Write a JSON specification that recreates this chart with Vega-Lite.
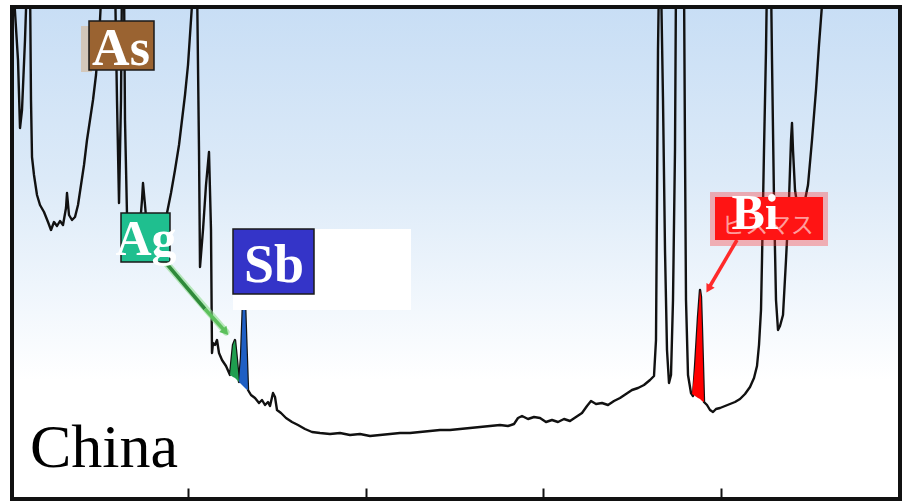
{
  "$schema": "https://vega.github.io/schema/vega-lite/v6.json",
  "width": 888,
  "height": 492,
  "padding": {"left": 12, "top": 7, "right": 6, "bottom": 3},
  "autosize": {"type": "none"},
  "background": "white",
  "config": {"view": {"stroke": null}},
  "encoding": {
    "x": {"field": "x", "type": "quantitative", "scale": {"domain": [12, 900], "nice": false, "zero": false},
      "axis": {"values": [188, 366, 543, 721], "labels": false, "title": null, "grid": false, "domain": false, "ticks": true, "tickSize": -11, "tickWidth": 2, "tickColor": "#111", "zindex": 2}},
    "y": {"field": "y", "type": "quantitative", "scale": {"domain": [-2, 490], "nice": false, "zero": false}, "axis": null}
  },
  "layer": [
    {
      "data": {"values": [{"x": 12, "x2": 900, "y": -2, "y2": 490}]},
      "mark": {"type": "rect", "fill": {"gradient": "linear", "x1": 0, "y1": 0, "x2": 0, "y2": 1,
        "stops": [{"offset": 0, "color": "#c8def5"}, {"offset": 0.35, "color": "#dceaf8"}, {"offset": 0.62, "color": "#f3f8fd"}, {"offset": 0.76, "color": "#ffffff"}, {"offset": 1, "color": "#ffffff"}]}},
      "encoding": {"x2": {"field": "x2"}, "y2": {"field": "y2"}}
    },
    {
      "data": {"values": [
        {"x":13,"y":517},{"x":18,"y":437},{"x":20,"y":369},{"x":22,"y":387},{"x":25,"y":457},{"x":27,"y":517},{"x":30,"y":517},{"x":31,"y":397},{"x":32,"y":340},{"x":34,"y":322},{"x":37,"y":302},{"x":40,"y":292},{"x":44,"y":285},{"x":48,"y":275},{"x":51,"y":267},{"x":54,"y":275},{"x":57,"y":271},{"x":60,"y":276},{"x":63,"y":272},{"x":66,"y":289},{"x":67,"y":304},{"x":69,"y":282},{"x":72,"y":277},{"x":75,"y":280},{"x":78,"y":292},{"x":81,"y":312},{"x":84,"y":332},{"x":87,"y":357},{"x":90,"y":377},{"x":93,"y":397},{"x":96,"y":422},{"x":98,"y":447},{"x":100,"y":477},{"x":102,"y":517},
        {"x":115,"y":517},{"x":117,"y":397},{"x":119,"y":294},{"x":121,"y":397},{"x":122,"y":517},{"x":124,"y":517},{"x":125,"y":377},{"x":127,"y":282},{"x":130,"y":265},{"x":135,"y":269},{"x":140,"y":272},{"x":142,"y":297},{"x":143,"y":314},{"x":145,"y":292},{"x":147,"y":269},{"x":152,"y":262},{"x":158,"y":265},{"x":163,"y":273},{"x":167,"y":284},{"x":171,"y":304},{"x":175,"y":327},{"x":179,"y":352},{"x":182,"y":377},{"x":185,"y":402},{"x":188,"y":432},{"x":190,"y":462},{"x":192,"y":492},{"x":193,"y":517},
        {"x":197,"y":517},{"x":199,"y":347},{"x":200,"y":230},{"x":203,"y":267},{"x":206,"y":312},{"x":209,"y":345},{"x":211,"y":267},{"x":212,"y":144},{"x":213,"y":154},{"x":215,"y":152},{"x":217,"y":157},{"x":219,"y":144},{"x":222,"y":137},{"x":226,"y":131},{"x":230,"y":122},{"x":233,"y":152},{"x":235,"y":157},{"x":237,"y":137},{"x":239,"y":115},{"x":241,"y":140},{"x":243,"y":195},{"x":244,"y":205},{"x":245,"y":195},{"x":246,"y":165},{"x":248,"y":107},
        {"x":251,"y":102},{"x":255,"y":99},{"x":259,"y":94},{"x":262,"y":97},{"x":265,"y":92},{"x":268,"y":95},{"x":270,"y":91},{"x":273,"y":104},{"x":275,"y":100},{"x":277,"y":87},{"x":281,"y":84},{"x":286,"y":79},{"x":292,"y":75},{"x":298,"y":72},{"x":305,"y":68},{"x":312,"y":65},{"x":320,"y":64},{"x":330,"y":63},{"x":340,"y":64},{"x":350,"y":62},{"x":360,"y":63},{"x":370,"y":61},{"x":380,"y":62},{"x":390,"y":63},{"x":400,"y":64},{"x":410,"y":64},{"x":420,"y":65},{"x":430,"y":66},{"x":440,"y":67},{"x":450,"y":67},{"x":460,"y":68},{"x":470,"y":69},{"x":480,"y":70},{"x":490,"y":71},{"x":500,"y":72},{"x":508,"y":71},{"x":514,"y":73},{"x":518,"y":79},{"x":522,"y":81},{"x":528,"y":78},{"x":534,"y":80},{"x":540,"y":79},{"x":546,"y":75},{"x":552,"y":77},{"x":558,"y":75},{"x":564,"y":78},{"x":570,"y":76},{"x":576,"y":80},{"x":582,"y":84},{"x":587,"y":91},{"x":591,"y":96},{"x":596,"y":93},{"x":602,"y":94},{"x":608,"y":92},{"x":614,"y":96},{"x":620,"y":99},{"x":626,"y":103},{"x":632,"y":107},{"x":638,"y":109},{"x":644,"y":112},{"x":650,"y":117},{"x":654,"y":121},
        {"x":656,"y":157},{"x":657,"y":297},{"x":658,"y":447},{"x":659,"y":517},{"x":661,"y":517},{"x":663,"y":397},{"x":665,"y":247},{"x":667,"y":147},{"x":669,"y":114},{"x":671,"y":122},{"x":673,"y":197},{"x":675,"y":347},{"x":676,"y":517},{"x":684,"y":517},{"x":685,"y":347},{"x":686,"y":197},{"x":688,"y":122},{"x":691,"y":104},{"x":693,"y":101},{"x":695,"y":130},{"x":698,"y":180},{"x":700,"y":207},{"x":701,"y":200},{"x":702,"y":167},{"x":704,"y":95},
        {"x":707,"y":92},{"x":710,"y":87},{"x":713,"y":85},{"x":716,"y":88},{"x":720,"y":89},{"x":725,"y":91},{"x":730,"y":93},{"x":735,"y":95},{"x":740,"y":98},{"x":745,"y":103},{"x":750,"y":110},{"x":754,"y":119},{"x":757,"y":131},{"x":759,"y":152},{"x":761,"y":187},{"x":762,"y":237},{"x":764,"y":347},{"x":766,"y":447},{"x":767,"y":517},{"x":771,"y":517},{"x":772,"y":437},{"x":774,"y":297},{"x":776,"y":197},{"x":778,"y":167},{"x":780,"y":171},{"x":783,"y":182},{"x":786,"y":237},{"x":789,"y":297},{"x":791,"y":357},{"x":792,"y":374},{"x":793,"y":347},{"x":795,"y":307},{"x":798,"y":287},{"x":801,"y":282},{"x":804,"y":292},{"x":808,"y":312},{"x":812,"y":357},{"x":816,"y":407},{"x":819,"y":452},{"x":822,"y":492},{"x":824,"y":517}
      ]},
      "mark": {"type": "line", "color": "#111111", "strokeWidth": 2.4, "clip": true, "strokeJoin": "round"}
    },
    {
      "data": {"values": [{"x":230,"y":122,"y2":122},{"x":233,"y":152,"y2":120},{"x":235,"y":157,"y2":119},{"x":237,"y":137,"y2":117},{"x":239,"y":115,"y2":115}]},
      "mark": {"type": "area", "color": "#1f9e4f"},
      "encoding": {"y2": {"field": "y2"}}
    },
    {
      "data": {"values": [{"x":239,"y":115,"y2":115},{"x":241,"y":140,"y2":113},{"x":243,"y":195,"y2":111},{"x":244,"y":205,"y2":110},{"x":245,"y":195,"y2":109},{"x":246,"y":165,"y2":108},{"x":248,"y":107,"y2":107}]},
      "mark": {"type": "area", "color": "#1f5fc4"},
      "encoding": {"y2": {"field": "y2"}}
    },
    {
      "data": {"values": [{"x":692,"y":103,"y2":103},{"x":695,"y":130,"y2":101},{"x":698,"y":180,"y2":99},{"x":700,"y":207,"y2":98},{"x":701,"y":200,"y2":97},{"x":702,"y":167,"y2":96},{"x":704,"y":95,"y2":95}]},
      "mark": {"type": "area", "color": "#ff0000"},
      "encoding": {"y2": {"field": "y2"}}
    },
    {
      "data": {"values": [{"x": 166, "y": 234, "x2": 226, "y2": 165}]},
      "mark": {"type": "rule", "color": "#8fdc8f", "strokeWidth": 7, "opacity": 0.6, "strokeCap": "round"},
      "encoding": {"x2": {"field": "x2"}, "y2": {"field": "y2"}}
    },
    {
      "data": {"values": [{"x": 166, "y": 234, "x2": 205, "y2": 188}]},
      "mark": {"type": "rule", "color": "#2f8a3a", "strokeWidth": 3.5},
      "encoding": {"x2": {"field": "x2"}, "y2": {"field": "y2"}}
    },
    {
      "data": {"values": [{"x": 205, "y": 188, "x2": 224, "y2": 167}]},
      "mark": {"type": "rule", "color": "#5cc05c", "strokeWidth": 3.5},
      "encoding": {"x2": {"field": "x2"}, "y2": {"field": "y2"}}
    },
    {
      "data": {"values": [{"x": 225.5, "y": 165}]},
      "mark": {"type": "point", "shape": "triangle-up", "filled": true, "size": 90, "angle": 139, "color": "#5cc05c", "opacity": 1}
    },
    {
      "data": {"values": [{"x": 737, "y": 257, "x2": 710, "y2": 211}]},
      "mark": {"type": "rule", "color": "#ff2a2a", "strokeWidth": 3.5},
      "encoding": {"x2": {"field": "x2"}, "y2": {"field": "y2"}}
    },
    {
      "data": {"values": [{"x": 708.5, "y": 208}]},
      "mark": {"type": "point", "shape": "triangle-up", "filled": true, "size": 90, "angle": 210, "color": "#ff2a2a", "opacity": 1}
    },
    {
      "data": {"values": [{"x": 81, "x2": 92, "y": 471, "y2": 425}]},
      "mark": {"type": "rect", "fill": "#d7ad80", "opacity": 0.5},
      "encoding": {"x2": {"field": "x2"}, "y2": {"field": "y2"}}
    },
    {
      "data": {"values": [{"x": 89, "x2": 154, "y": 476, "y2": 427}]},
      "mark": {"type": "rect", "fill": "#9a6331", "stroke": "#1a1a1a", "strokeWidth": 1.5},
      "encoding": {"x2": {"field": "x2"}, "y2": {"field": "y2"}}
    },
    {
      "data": {"values": [{"x": 121, "y": 432, "label": "As"}]},
      "mark": {"type": "text", "font": "Liberation Serif", "fontWeight": "bold", "fontSize": 52, "fill": "white", "align": "center", "baseline": "alphabetic"},
      "encoding": {"text": {"field": "label"}}
    },
    {
      "data": {"values": [{"x": 121, "x2": 170, "y": 284, "y2": 235}]},
      "mark": {"type": "rect", "fill": "#1fbf8f", "stroke": "#1a1a1a", "strokeWidth": 1.5},
      "encoding": {"x2": {"field": "x2"}, "y2": {"field": "y2"}}
    },
    {
      "data": {"values": [{"x": 146, "y": 242, "label": "Ag"}]},
      "mark": {"type": "text", "font": "Liberation Serif", "fontWeight": "bold", "fontSize": 50, "fill": "white", "align": "center", "baseline": "alphabetic"},
      "encoding": {"text": {"field": "label"}}
    },
    {
      "data": {"values": [{"x": 233, "x2": 411, "y": 268, "y2": 187}]},
      "mark": {"type": "rect", "fill": "white"},
      "encoding": {"x2": {"field": "x2"}, "y2": {"field": "y2"}}
    },
    {
      "data": {"values": [{"x": 233, "x2": 314, "y": 268, "y2": 203}]},
      "mark": {"type": "rect", "fill": "#3434c8", "stroke": "#1a1a1a", "strokeWidth": 1.5},
      "encoding": {"x2": {"field": "x2"}, "y2": {"field": "y2"}}
    },
    {
      "data": {"values": [{"x": 274, "y": 215, "label": "Sb"}]},
      "mark": {"type": "text", "font": "Liberation Serif", "fontWeight": "bold", "fontSize": 54, "fill": "white", "align": "center", "baseline": "alphabetic"},
      "encoding": {"text": {"field": "label"}}
    },
    {
      "data": {"values": [{"x": 710, "x2": 828, "y": 305, "y2": 251}]},
      "mark": {"type": "rect", "fill": "#ff3030", "opacity": 0.35},
      "encoding": {"x2": {"field": "x2"}, "y2": {"field": "y2"}}
    },
    {
      "data": {"values": [{"x": 715, "x2": 823, "y": 300, "y2": 257}]},
      "mark": {"type": "rect", "fill": "#ff1414"},
      "encoding": {"x2": {"field": "x2"}, "y2": {"field": "y2"}}
    },
    {
      "data": {"values": [{"x": 768, "y": 264, "label": "ビスマス"}]},
      "mark": {"type": "text", "font": "Noto Sans CJK JP", "fontSize": 23, "fill": "#ffb3b3", "opacity": 0.85, "align": "center", "baseline": "alphabetic"},
      "encoding": {"text": {"field": "label"}}
    },
    {
      "data": {"values": [{"x": 755, "y": 268, "label": "Bi"}]},
      "mark": {"type": "text", "font": "Liberation Serif", "fontWeight": "bold", "fontSize": 50, "fill": "white", "align": "center", "baseline": "alphabetic"},
      "encoding": {"text": {"field": "label"}}
    },
    {
      "data": {"values": [{"x": 30, "y": 30, "label": "China"}]},
      "mark": {"type": "text", "font": "Liberation Serif", "fontSize": 62, "fill": "black", "align": "left", "baseline": "alphabetic"},
      "encoding": {"text": {"field": "label"}}
    },
    {
      "data": {"values": [{"x": 12, "x2": 900, "y": -2, "y2": 490}]},
      "mark": {"type": "rect", "filled": false, "stroke": "#111111", "strokeWidth": 4},
      "encoding": {"x2": {"field": "x2"}, "y2": {"field": "y2"}}
    }
  ]
}
